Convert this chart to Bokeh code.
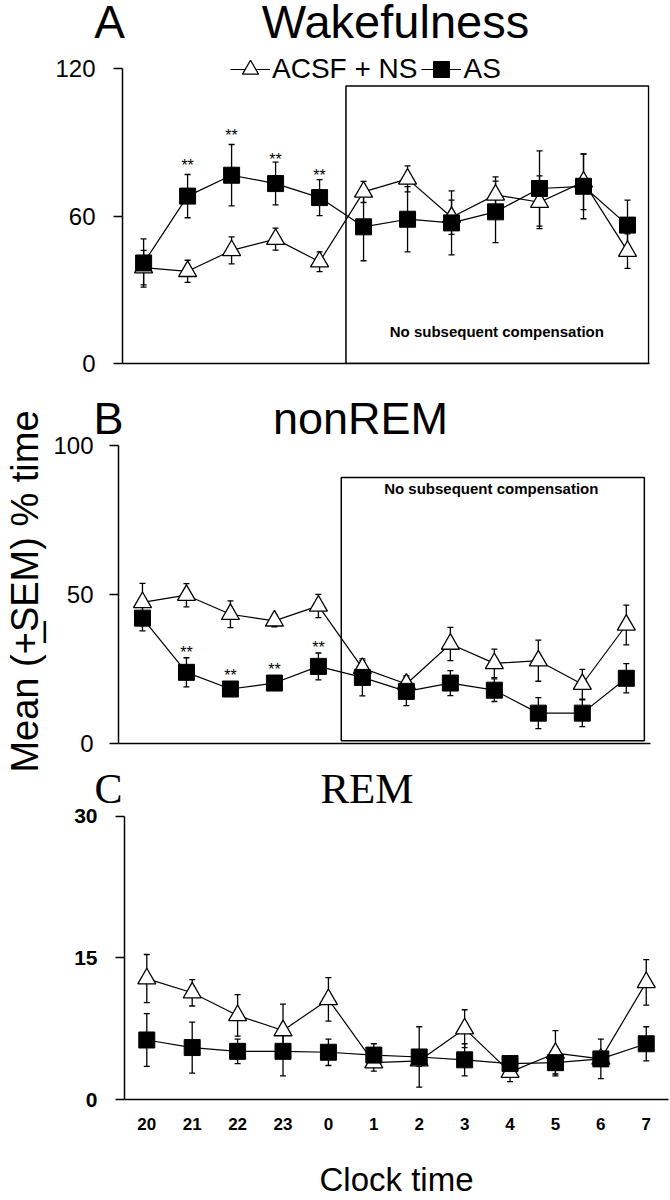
import math
from bokeh.plotting import figure
from bokeh.models import (ColumnDataSource, Whisker, TeeHead, Legend, LegendItem,
                          Label, BoxAnnotation, FixedTicker, Range1d)
from bokeh.layouts import row, column
from bokeh.core.properties import value
from bokeh.embed import file_html
from bokeh.resources import INLINE

# ---------------- data ----------------
hours = ["20", "21", "22", "23", "0", "1", "2", "3", "4", "5", "6", "7"]

wake_acsf = [39.0, 37.5, 46.0, 50.6, 41.4, 69.8, 75.1, 59.5, 68.6, 65.6, 73.9, 45.7]
wake_acsf_sem = [7.0, 4.5, 5.5, 4.5, 4.0, 4.3, 5.3, 7.0, 7.3, 10.7, 11.3, 7.0]
wake_as = [40.9, 68.1, 76.6, 73.2, 67.5, 55.6, 58.7, 57.2, 61.7, 71.2, 72.1, 56.3]
wake_as_sem = [9.8, 8.8, 12.5, 8.7, 7.3, 13.8, 13.3, 13.0, 12.5, 15.3, 13.2, 10.2]

nrem_acsf = [47.4, 49.8, 43.4, 41.2, 46.2, 25.3, 20.0, 33.4, 26.9, 27.8, 19.9, 39.8]
nrem_acsf_sem = [6.4, 3.9, 4.5, 2.0, 3.9, 2.5, 2.7, 5.6, 4.8, 6.9, 5.0, 6.7]
nrem_as = [42.1, 23.9, 18.3, 20.3, 25.9, 22.2, 17.5, 20.3, 17.9, 10.2, 10.2, 21.9]
nrem_as_sem = [4.3, 4.9, 2.0, 2.0, 4.5, 6.2, 4.8, 4.2, 3.8, 5.2, 4.5, 4.9]

rem_acsf = [12.8, 11.3, 8.9, 7.3, 10.6, 3.9, 4.1, 7.5, 2.9, 4.9, 4.3, 12.4]
rem_acsf_sem = [2.55, 1.4, 2.2, 2.8, 2.3, 0.9, 0.6, 2.0, 1.0, 2.4, 0.5, 2.4]
rem_as = [6.3, 5.5, 5.1, 5.1, 5.0, 4.7, 4.5, 4.2, 3.8, 3.9, 4.3, 5.9]
rem_as_sem = [2.8, 2.7, 1.3, 2.6, 1.4, 1.2, 3.2, 1.7, 0.8, 1.2, 2.1, 1.8]

star_hours = ["21", "22", "23", "0"]
wake_star_y = [82.4, 94.6, 85.0, 78.6]
nrem_star_y = [32.3, 24.4, 26.4, 33.9]

SANS = "Liberation Sans"
SERIF = "Liberation Serif"
xs = list(range(len(hours)))
LW = 48   # width of the y-label strip
PW = 622  # width of the panel column


def blank_fig(width, height):
    f = figure(width=width, height=height, output_backend="svg", title=None,
               toolbar_location=None, x_range=Range1d(0, width),
               y_range=Range1d(0, height), x_axis_location=None,
               y_axis_location=None, min_border_left=0, min_border_right=0,
               min_border_top=0, min_border_bottom=0, frame_align=False)
    f.grid.visible = False
    f.outline_line_color = None
    return f


def title_fig(height, letter, letter_x, main, main_x, mid_y, font, lsize, msize):
    f = blank_fig(PW, height)
    f.text(x=[letter_x], y=[mid_y], text=[letter], text_align="center",
           text_baseline="middle", text_font=value(font),
           text_font_size=lsize, text_color="black")
    f.text(x=[main_x], y=[mid_y], text=[main], text_align="center",
           text_baseline="middle", text_font=value(font),
           text_font_size=msize, text_color="black")
    return f


def make_panel(height, borders, xr, yr, yticks, ybound,
               acsf, acsf_sem, asv, as_sem, tick_font_size, tick_bold,
               tick_standoff):
    left, right, bottom = borders
    p = figure(width=PW, height=height, output_backend="svg", title=None,
               toolbar_location=None, x_range=Range1d(*xr), y_range=Range1d(*yr),
               min_border_left=left, min_border_right=right,
               min_border_top=0, min_border_bottom=bottom, frame_align=False)
    p.outline_line_color = None
    p.grid.visible = False
    p.background_fill_color = "white"
    p.border_fill_color = "white"

    ya = p.yaxis[0]
    ya.ticker = FixedTicker(ticks=yticks)
    ya.bounds = ybound
    ya.axis_line_width = 1.5
    ya.axis_line_color = "black"
    ya.major_tick_line_width = 1.5
    ya.major_tick_out = 9
    ya.major_tick_in = 0
    ya.minor_tick_line_color = None
    ya.major_label_text_font = SANS
    ya.major_label_text_font_size = tick_font_size
    ya.major_label_text_font_style = "bold" if tick_bold else "normal"
    ya.major_label_text_color = "black"
    ya.major_label_standoff = tick_standoff

    xa = p.xaxis[0]
    xa.axis_line_width = 1.5
    xa.axis_line_color = "black"
    xa.minor_tick_line_color = None
    xa.major_tick_out = 0
    xa.major_tick_in = 0

    src_a = ColumnDataSource(dict(x=xs, y=acsf,
                                  lo=[m - s for m, s in zip(acsf, acsf_sem)],
                                  up=[m + s for m, s in zip(acsf, acsf_sem)]))
    src_b = ColumnDataSource(dict(x=xs, y=asv,
                                  lo=[m - s for m, s in zip(asv, as_sem)],
                                  up=[m + s for m, s in zip(asv, as_sem)]))

    for src in (src_a, src_b):
        w = Whisker(source=src, base="x", lower="lo", upper="up",
                    line_color="black", line_width=1.3, level="underlay",
                    upper_head=TeeHead(size=6, line_width=1.3, line_color="black"),
                    lower_head=TeeHead(size=6, line_width=1.3, line_color="black"))
        p.add_layout(w)

    la = p.line("x", "y", source=src_a, line_color="black", line_width=1.2)
    sa = p.scatter("x", "y", source=src_a, marker="triangle", size=18,
                   fill_color="white", line_color="black", line_width=1.3)
    lb = p.line("x", "y", source=src_b, line_color="black", line_width=1.2)
    sb = p.scatter("x", "y", source=src_b, marker="square", size=16,
                   fill_color="black", line_color="black")
    return p, (la, sa, lb, sb)


def add_stars(p, star_y):
    sx = [hours.index(h) for h in star_hours]
    p.text(x=sx, y=star_y, text=["**"] * len(sx), text_align="center",
           text_baseline="middle", y_offset=5, text_font=value(SANS),
           text_font_size="16px", text_color="black")


def add_box(p, l, r, b, t):
    p.add_layout(BoxAnnotation(left=l, right=r, bottom=b, top=t,
                               fill_color=None, fill_alpha=0,
                               line_color="black", line_alpha=1.0,
                               line_width=1.5))


def add_comp(p, x, y):
    p.add_layout(Label(x=x, y=y, text="No subsequent compensation",
                       text_font=SANS, text_font_size="15px",
                       text_font_style="bold", text_align="center",
                       text_baseline="middle", text_color="black"))


# ---------------- panel A ----------------
tA = title_fig(46, "A", 61, "Wakefulness", 347, 25, SANS, "46px", "47px")
pA, (la, sa, lb, sb) = make_panel(
    339, (74, 21, 22), (-0.48, 11.5), (0, 128.97), [0, 60, 120], (0, 120),
    wake_acsf, wake_acsf_sem, wake_as, wake_as_sem, "24px", False, 18)
pA.xaxis[0].ticker = FixedTicker(ticks=[])
pA.xaxis[0].major_label_text_font_size = "0px"
add_box(pA, 4.6, 11.48, 0, 112.9)
add_stars(pA, wake_star_y)
add_comp(pA, 8.03, 13.1)
legend = Legend(items=[LegendItem(label="ACSF + NS", renderers=[la, sa]),
                       LegendItem(label="AS", renderers=[lb, sb])],
                orientation="horizontal", location=(108, 273),
                label_text_font=SANS, label_text_font_size="28px",
                label_text_color="black",
                glyph_width=40, glyph_height=42, spacing=4, padding=0, margin=0,
                label_standoff=2, border_line_color=None,
                background_fill_alpha=0)
pA.add_layout(legend)

# ---------------- panel B ----------------
tB = title_fig(51, "B", 60, "nonREM", 312, 18, SANS, "45px", "45px")
pB, _ = make_panel(
    324, (70, 20, 17), (-0.545, 11.55), (0, 103.1), [0, 50, 100], (0, 100),
    nrem_acsf, nrem_acsf_sem, nrem_as, nrem_as_sem, "24px", False, 16)
pB.xaxis[0].ticker = FixedTicker(ticks=[])
pB.xaxis[0].major_label_text_font_size = "0px"
add_box(pB, 4.52, 11.41, 0.9, 89.3)
add_stars(pB, nrem_star_y)
add_comp(pB, 7.93, 85.6)

# ---------------- panel C ----------------
tC = title_fig(48, "C", 60, "REM", 318.5, 20, SERIF, "42px", "43px")
pC, _ = make_panel(
    392, (76, 2, 98), (-0.491, 11.49), (0, 30.81), [0, 15, 30], (0, 30),
    rem_acsf, rem_acsf_sem, rem_as, rem_as_sem, "21px", True, 18)
xa = pC.xaxis[0]
xa.ticker = FixedTicker(ticks=xs)
xa.major_label_overrides = {i: h for i, h in zip(xs, hours)}
xa.major_label_text_font = SANS
xa.major_label_text_font_size = "17px"
xa.major_label_text_font_style = "bold"
xa.major_label_text_color = "black"
xa.major_label_standoff = 18
xa.axis_label = "Clock time"
xa.axis_label_text_font = SANS
xa.axis_label_text_font_size = "33px"
xa.axis_label_text_font_style = "normal"
xa.axis_label_text_color = "black"
xa.axis_label_standoff = 28

# ---------------- shared y label ----------------
pL = blank_fig(LW, 1200)
pL.text(x=[24], y=[609], text=["Mean (+\u0332SEM) % time"], angle=math.pi / 2,
        text_align="center", text_baseline="middle",
        text_font=value(SANS), text_font_size="38px", text_color="black")

layout = row(pL, column(tA, pA, tB, pB, tC, pC))

with open("out.html", "w") as f:
    f.write(file_html(layout, INLINE))
